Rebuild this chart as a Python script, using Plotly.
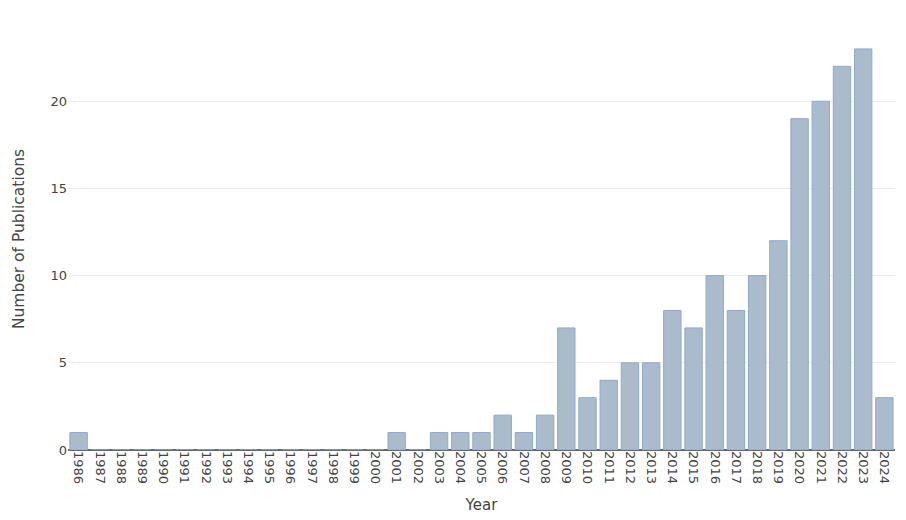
import plotly.graph_objects as go

# Publications per year
years = [str(y) for y in range(1986, 2025)]
counts = [1, 0, 0, 0, 0, 0, 0, 0, 0, 0, 0, 0, 0, 0, 0,
          1, 0, 1, 1, 1, 2, 1, 2, 7, 3, 4, 5, 5, 8, 7,
          10, 8, 10, 12, 19, 20, 22, 23, 3]

fig = go.Figure()
fig.add_trace(go.Bar(
    x=years,
    y=counts,
    marker=dict(color='#aabbcc', line=dict(color='#8fa8cf', width=1)),
))

# page body has an 8px margin, so the figure is a bit smaller than the window
fig.update_layout(
    width=898, height=512,
    margin=dict(l=60, r=11, t=20, b=70),
    paper_bgcolor='white',
    plot_bgcolor='white',
    font=dict(family='DejaVu Sans', size=13, color='#444'),
    bargap=0.18,
    xaxis=dict(
        title=dict(text='Year', font=dict(size=15), standoff=16),
        tickangle=90,
        type='category',
        showgrid=False,
        tickfont=dict(size=13),
        automargin=False,
    ),
    yaxis=dict(
        title=dict(text='Number of Publications', font=dict(size=15.5), standoff=22),
        gridcolor='#e8eef2',
        zeroline=True,
        zerolinecolor='#666',
        zerolinewidth=2,
        tickvals=[0, 5, 10, 15, 20],
        range=[0, 24.2],
        automargin=False,
    ),
)

fig.write_html("out.html")
